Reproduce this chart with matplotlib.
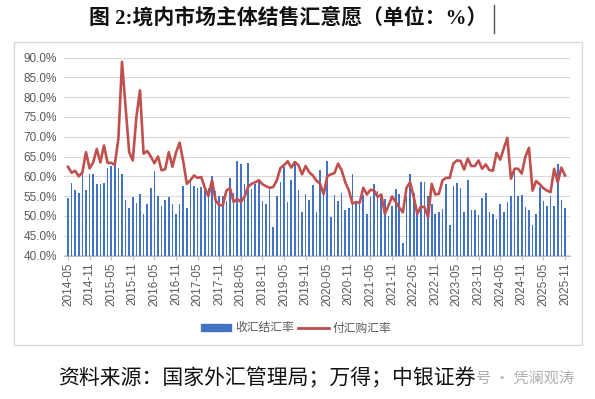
import matplotlib
matplotlib.use("Agg")
import matplotlib.pyplot as plt
from matplotlib.patches import Rectangle, Patch
from matplotlib.lines import Line2D
import numpy as np
import pandas as pd

# ---------------- data ----------------
months = pd.period_range("2014-05", "2025-11", freq="M").strftime("%Y-%m").tolist()

settle_ratio = [  # 收汇结汇率 (%)
    54.5, 58.2, 56.5, 55.8, 60.8, 56.5, 60.5, 60.5, 58.0, 58.0,
    58.2, 62.0, 62.6, 63.0, 62.0, 60.5, 54.0, 52.0, 54.8, 53.3,
    55.5, 50.5, 53.0, 57.0, 61.4, 55.1, 52.4, 54.1, 54.7, 52.9,
    50.4, 52.9, 57.5, 51.9, 59.5, 57.5, 57.0, 57.2, 57.4, 57.0,
    60.2, 56.2, 55.1, 55.1, 53.7, 59.5, 55.9, 63.9, 63.2, 58.1,
    63.4, 56.9, 58.1, 58.5, 53.7, 53.1, 56.9, 47.1, 55.1, 58.5,
    62.3, 53.4, 59.0, 63.9, 56.6, 51.1, 55.6, 53.9, 57.9, 51.1,
    61.5, 55.6, 63.8, 49.7, 55.4, 53.7, 55.9, 51.4, 52.1, 60.7,
    53.2, 53.2, 55.2, 50.5, 54.8, 58.0, 56.4, 55.4, 54.3, 50.1,
    52.6, 56.7, 55.6, 43.1, 55.0, 60.7, 55.7, 50.6, 58.6, 58.6,
    55.0, 53.1, 50.4, 50.9, 51.7, 58.0, 47.7, 57.5, 58.4, 57.0,
    50.9, 59.0, 51.6, 51.6, 50.2, 54.4, 55.9, 50.9, 50.6, 49.1,
    53.1, 50.9, 53.5, 55.1, 61.4, 55.1, 55.4, 52.2, 51.6, 47.7,
    50.4, 57.4, 53.7, 52.4, 55.0, 52.4, 63.0, 54.0, 52.0,
]

purchase_ratio = [  # 付汇购汇率 (%)
    62.4, 60.9, 61.4, 60.0, 61.0, 66.1, 62.0, 63.5, 66.9, 63.5,
    67.8, 63.4, 63.4, 62.9, 69.5, 88.9, 77.5, 66.1, 64.0, 75.0,
    81.7, 65.7, 66.4, 65.0, 63.3, 65.0, 61.5, 61.8, 66.1, 62.4,
    66.0, 68.5, 63.8, 58.1, 59.0, 60.2, 59.6, 59.8, 57.1, 55.0,
    59.0, 53.9, 52.7, 52.7, 56.4, 57.0, 53.5, 54.3, 53.5, 54.8,
    57.3, 58.1, 58.5, 59.0, 58.0, 57.5, 57.1, 57.3, 59.0, 62.1,
    62.8, 63.8, 62.2, 63.6, 62.8, 60.5, 62.6, 61.0, 60.2, 58.9,
    58.1, 55.5, 60.0, 60.5, 60.8, 63.2, 61.5, 58.5, 56.4, 53.1,
    53.5, 53.3, 57.1, 55.4, 56.6, 56.4, 54.8, 55.4, 50.5, 52.6,
    54.9, 53.5, 52.1, 50.9, 57.1, 58.5, 54.8, 50.5, 52.4, 52.2,
    49.7, 58.1, 55.4, 55.6, 59.0, 59.6, 59.6, 63.2, 64.0, 63.9,
    61.7, 64.5, 62.6, 62.6, 64.0, 61.9, 63.0, 61.6, 61.4, 65.9,
    64.2, 67.0, 69.7, 59.4, 61.9, 61.9, 60.7, 64.9, 67.2, 56.4,
    58.8, 58.0, 57.0, 56.4, 56.0, 61.9, 58.5, 62.2, 60.2,
]

series_names = ["收汇结汇率", "付汇购汇率"]
title_text = "图 2:境内市场主体结售汇意愿（单位：%）"
source_text = "资料来源：国家外汇管理局；万得；中银证券"
watermark_text = "号 · 凭澜观涛"

# ---------------- figure ----------------
plt.rcParams["font.family"] = ["Liberation Sans", "Noto Sans CJK SC", "DejaVu Sans"]

W, H = 595, 399
fig = plt.figure(figsize=(W / 100, H / 100), dpi=100)

def fx(px):
    return px / W

def fy(py):
    return 1 - py / H

# outer chart frame
fig.patches.append(Rectangle((fx(14), fy(345)), fx(582) - fx(14), fy(42) - fy(345),
                             transform=fig.transFigure, fill=False,
                             edgecolor="#d9d9d9", linewidth=1.0))

ax_left, ax_right = 64, 570
ax_top, ax_bottom = 57.5, 255.5
ax = fig.add_axes([fx(ax_left), fy(ax_bottom), fx(ax_right) - fx(ax_left), fy(ax_top) - fy(ax_bottom)])

x = np.arange(len(months))
bar_color = "#4472C4"
line_color = "#C0504D"

ax.bar(x, np.array(settle_ratio) - 40, bottom=40, width=0.45, color=bar_color, zorder=2)
ax.plot(x, purchase_ratio, color=line_color, linewidth=1.9, zorder=3, solid_joinstyle="round")

ax.set_ylim(40, 90)
ax.set_xlim(-1.1, len(months) - 1 + 1.4)
yt = np.arange(40, 91, 5)
ax.set_yticks(yt)
ax.set_yticklabels([f"{v:.1f}%" for v in yt], fontsize=8.5, color="#595959")
ax.grid(axis="y", color="#d9d9d9", linewidth=0.8, zorder=0)
ax.set_axisbelow(True)

tick_idx = list(range(0, len(months), 6))
ax.set_xticks(tick_idx)
ax.set_xticklabels([months[i] for i in tick_idx], rotation=90, fontsize=8.5, color="#595959")
ax.tick_params(axis="x", length=3, color="#bfbfbf", pad=2)
ax.tick_params(axis="y", length=0, pad=5)

for s in ["top", "right", "left"]:
    ax.spines[s].set_visible(False)
ax.spines["bottom"].set_color("#bfbfbf")
ax.spines["bottom"].set_linewidth(0.8)

# legend
handles = [Patch(facecolor=bar_color, edgecolor=bar_color),
           Line2D([0], [0], color=line_color, linewidth=2.0)]
fig.legend(handles, series_names, loc="center", bbox_to_anchor=(fx(296), fy(328)),
           ncol=2, frameon=False, labelcolor="#595959",
           handlelength=2.6, handleheight=0.6, columnspacing=0.4, handletextpad=0.3,
           prop={"family": ["Noto Sans CJK SC"], "size": 8.5})

# title
fig.text(fx(288), fy(18), title_text, ha="center", va="center", fontsize=15,
         fontweight="bold", color="#111111",
         family=["Liberation Serif", "Noto Sans CJK SC"])
fig.lines.append(Line2D([fx(494), fx(494)], [fy(5), fy(33)], transform=fig.transFigure,
                        color="#555555", linewidth=1.0))

# watermark (behind source)
fig.text(fx(476), fy(378), watermark_text, ha="left", va="center", fontsize=11,
         color="#b0b0b0", family=["Noto Sans CJK SC", "DejaVu Sans"])

# source
fig.text(fx(58), fy(378), source_text, ha="left", va="center", fontsize=15,
         fontweight="medium", color="#111111", family=["Noto Sans CJK SC"])

fig.savefig("out.png", dpi=100)
